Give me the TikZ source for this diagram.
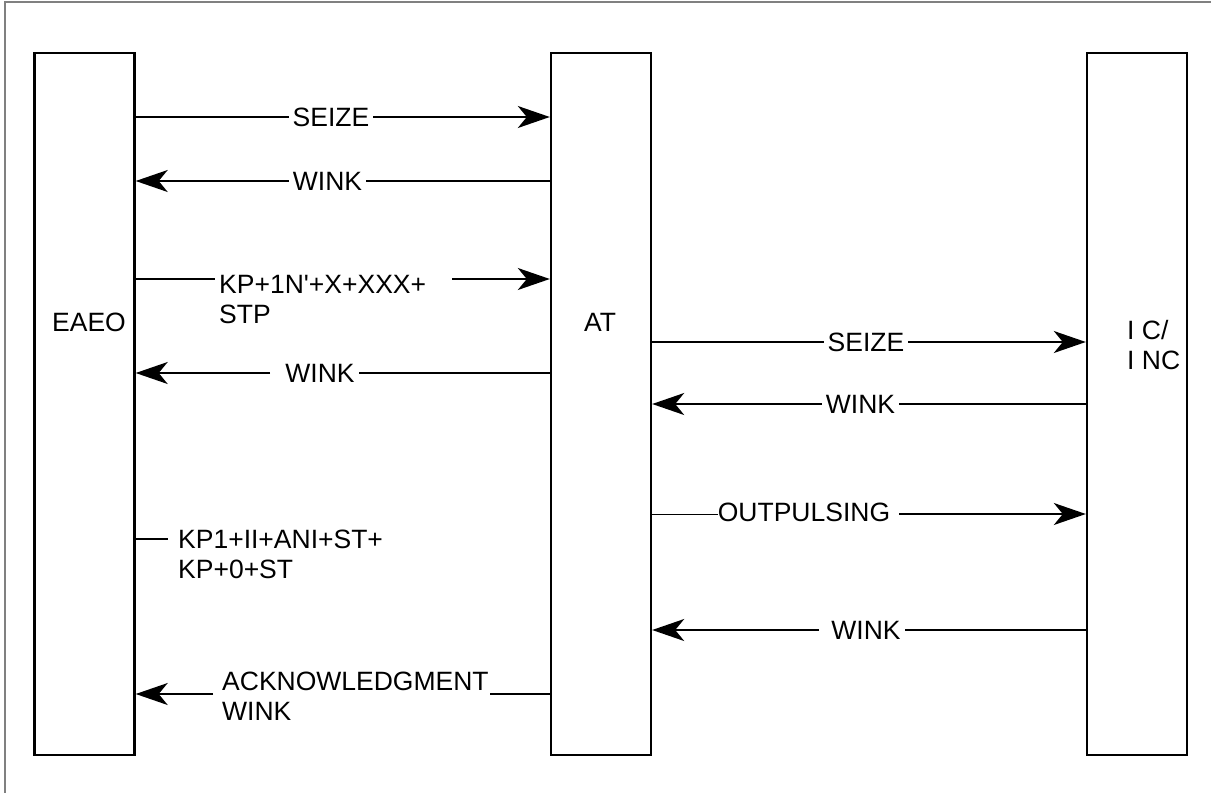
\documentclass[tikz,border=0pt]{standalone}
\usepackage{fontspec}
\newfontfamily\lsans{Liberation Sans}
\usetikzlibrary{arrows.meta}
\begin{document}
\begin{tikzpicture}[x=1pt,y=-1pt,
  font=\lsans\fontsize{26.5}{30}\selectfont,
  box/.style={draw, line width=2.4pt, minimum width=100pt, minimum height=702pt, inner sep=0pt},
  msg/.style={line width=1.6pt},
  tip/.style={-{Stealth[length=32pt,width=22pt,inset=9pt]}},
  lbl/.style={inner xsep=4pt, inner ysep=0pt},
  mlbl/.style={inner sep=0pt, align=left, anchor=north west},
  frame/.style={draw=black!50, line width=1.3pt}
]
\useasboundingbox (0,0) rectangle (1211,793);
\draw[frame] (5,793) -- (5,2) -- (1211,2);

% boxes
\node[box] (eaeo) at (84.5,404) {};
\node[box] (at) at (601,404) {};
\node[box] (ic) at (1137,404) {};
\node (eaeoL) at (89,322) {EAEO};
\node (atL) at (600,322) {AT};
\node[mlbl] (icL) at (1127,320) {I C/\\I NC};

% rows
\coordinate (r1) at (0,117);
\coordinate (r2) at (0,181);
\coordinate (r3) at (0,279);
\coordinate (r4) at (0,373);
\coordinate (r5) at (0,342);
\coordinate (r6) at (0,404);
\coordinate (r7) at (0,514);
\coordinate (r8) at (0,630);
\coordinate (r9) at (0,539);
\coordinate (r10) at (0,694);

% SEIZE EAEO -> AT
\node[lbl] (l1) at (331,117) {SEIZE};
\draw[msg] (eaeo.east |- r1) -- (l1.west);
\draw[msg,tip] (l1.east) -- (at.west |- r1);

% WINK AT -> EAEO
\node[lbl] (l2) at (327.5,181) {WINK};
\draw[msg,tip] (l2.west) -- (eaeo.east |- r2);
\draw[msg] (at.west |- r2) -- (l2.east);

% KP+1N'+X+XXX+ STP
\node[mlbl] (l3) at (219,275) {KP+1N'+X+XXX+\\STP};
\coordinate (l3a) at ([xshift=-4pt]l3.west);
\coordinate (l3b) at ([xshift=26pt]l3.east);
\draw[msg] (eaeo.east |- r3) -- (l3a |- r3);
\draw[msg,tip] (l3b |- r3) -- (at.west |- r3);

% WINK AT -> EAEO (2)
\node[lbl] (l4) at (320,373) {WINK};
\coordinate (l4a) at ([xshift=-11pt]l4.west);
\draw[msg,tip] (l4a) -- (eaeo.east |- r4);
\draw[msg] (at.west |- r4) -- (l4.east);

% SEIZE AT -> IC
\node[lbl] (l5) at (866,342) {SEIZE};
\draw[msg] (at.east |- r5) -- (l5.west);
\draw[msg,tip] (l5.east) -- (ic.west |- r5);

% WINK IC -> AT
\node[lbl] (l6) at (860.5,404) {WINK};
\draw[msg,tip] (l6.west) -- (at.east |- r6);
\draw[msg] (ic.west |- r6) -- (l6.east);

% OUTPULSING AT -> IC
\node[inner sep=0pt] (l7) at (804,512) {OUTPULSING};
\coordinate (l7b) at ([xshift=9pt]l7.east);
\draw[line width=0.8pt] (at.east |- r7) -- (l7.west |- r7);
\draw[msg,tip] (l7b |- r7) -- (ic.west |- r7);

% WINK IC -> AT (bottom)
\node[lbl] (l8) at (866,630) {WINK};
\coordinate (l8a) at ([xshift=-8pt]l8.west);
\draw[msg,tip] (l8a) -- (at.east |- r8);
\draw[msg] (ic.west |- r8) -- (l8.east);

% KP1+II+ANI+ST+ KP+0+ST
\node[mlbl] (l9) at (178,530) {KP1+II+ANI+ST+\\KP+0+ST};
\coordinate (l9a) at ([xshift=-10pt]l9.west);
\draw[msg] (eaeo.east |- r9) -- (l9a |- r9);

% ACKNOWLEDGMENT WINK
\node[mlbl] (l10) at (222,672) {ACKNOWLEDGMENT\\WINK};
\coordinate (l10a) at ([xshift=-9pt]l10.west);
\coordinate (l10b) at ([xshift=1pt]l10.east);
\draw[msg,tip] (l10a |- r10) -- (eaeo.east |- r10);
\draw[msg] (at.west |- r10) -- (l10b |- r10);
\end{tikzpicture}
\end{document}
